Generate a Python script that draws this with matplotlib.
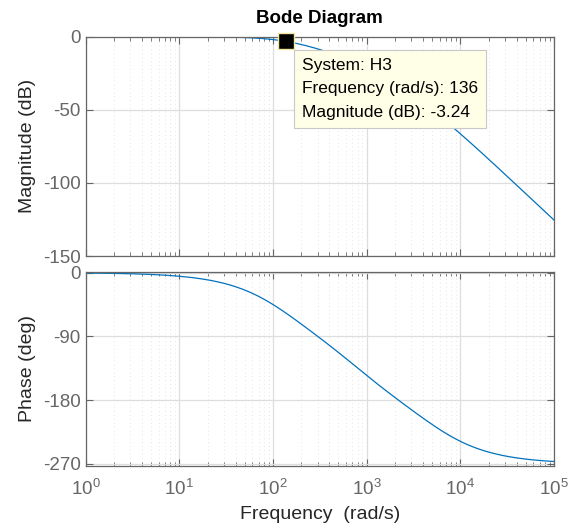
import numpy as np
import matplotlib
matplotlib.use("Agg")
import matplotlib.pyplot as plt
from matplotlib.ticker import LogLocator, NullFormatter

plt.rcParams['font.family'] = ['Liberation Sans', 'DejaVu Sans']
plt.rcParams['axes.unicode_minus'] = False

poles = [134.0, 800.0, 5000.0]
dc_gain = 1.0

# data tip shown on the magnitude plot
tip_system = "H3"
tip_freq = 136
tip_mag = -3.24

mag_ticks = [0, -50, -100, -150]
phase_ticks = [0, -90, -180, -270]
freq_ticks = [1e0, 1e1, 1e2, 1e3, 1e4, 1e5]

w = np.logspace(0, 5, 800)
s = 1j * w
h = dc_gain * np.ones_like(s)
for p in poles:
    h = h * p / (s + p)
mag_db = 20 * np.log10(np.abs(h))
phase_deg = np.degrees(np.unwrap(np.angle(h)))

line_col = '#0072BD'
axis_col = '#666666'
grid_col = '#dedede'
label_col = '#262626'

fig = plt.figure(figsize=(5.75, 5.26), dpi=100)
ax_m = fig.add_axes([0.149, 0.5133, 0.8145, 0.4170])
ax_p = fig.add_axes([0.149, 0.1140, 0.8145, 0.3690])

for ax in (ax_m, ax_p):
    ax.set_xscale('log')
    ax.set_xlim(1e0, 1e5)
    ax.xaxis.set_major_locator(LogLocator(base=10, numticks=10))
    ax.xaxis.set_minor_locator(LogLocator(base=10, subs=np.arange(2, 10), numticks=20))
    ax.xaxis.set_minor_formatter(NullFormatter())
    ax.grid(True, which='major', color=grid_col, linewidth=0.9)
    ax.grid(True, which='minor', axis='x', color='#e6e6e6', linestyle=(0, (1, 3)), linewidth=0.7)
    ax.set_axisbelow(True)
    ax.tick_params(which='both', direction='in', top=True, right=True,
                   colors=axis_col, labelsize=13.5)
    ax.tick_params(which='major', length=5)
    ax.tick_params(which='minor', length=3)
    for sp in ax.spines.values():
        sp.set_color(axis_col)
        sp.set_linewidth(0.9)

ax_m.plot(w, mag_db, color=line_col, linewidth=0.9)
ax_m.set_ylim(-150, 0)
ax_m.set_yticks(mag_ticks)
ax_m.set_xticks(freq_ticks)
ax_m.tick_params(labelbottom=False)
ax_m.set_ylabel('Magnitude (dB)', fontsize=14, color=label_col, labelpad=5)
ax_m.set_title('Bode Diagram', fontsize=13.5, fontweight='bold', pad=10)

ax_p.plot(w, phase_deg, color=line_col, linewidth=0.9)
ax_p.set_ylim(-273, 1)
ax_p.set_yticks(phase_ticks)
ax_p.set_xticks(freq_ticks)
ax_p.set_ylabel('Phase (deg)', fontsize=14, color=label_col, labelpad=5)
ax_p.set_xlabel('Frequency  (rad/s)', fontsize=14, color=label_col, labelpad=5)
ax_p.tick_params(axis='x', pad=9)

# data tip
ax_m.plot([tip_freq], [tip_mag], marker='s', markersize=11, color='black',
          markeredgecolor='#f0e6a0', markeredgewidth=1, clip_on=False, zorder=5)
tip_text = ("System: %s\nFrequency (rad/s): %d\nMagnitude (dB): %.2f"
            % (tip_system, tip_freq, tip_mag))
ax_m.annotate(tip_text, xy=(tip_freq, tip_mag), xytext=(12, -12),
              textcoords='offset points', ha='left', va='top',
              fontsize=12.5, linespacing=1.7, color='black', zorder=6,
              bbox=dict(boxstyle='square,pad=0.45', facecolor='#ffffe8',
                        edgecolor='#c8c8c8', linewidth=0.8))

fig.savefig('out.png', dpi=100)
